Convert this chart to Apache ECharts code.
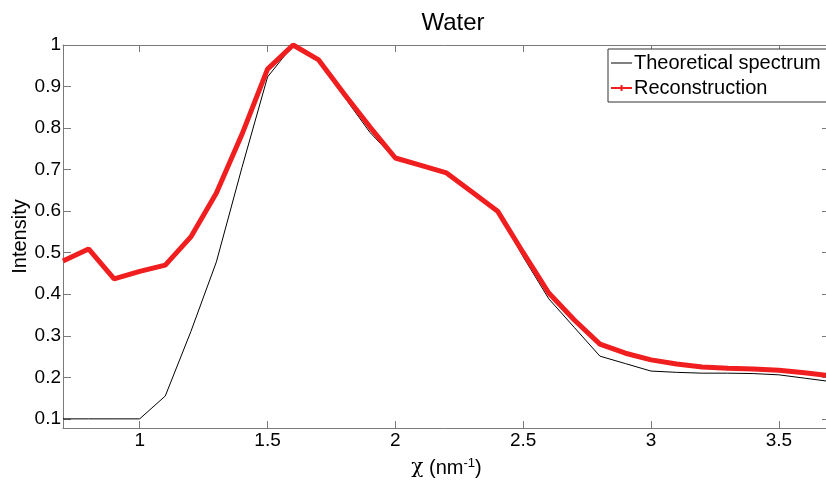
<!DOCTYPE html>
<html>
<head>
<meta charset="utf-8">
<script src="https://cdn.jsdelivr.net/npm/echarts@6/dist/echarts.min.js"></script>
<style>html,body{margin:0;padding:0;background:#fff;}#c{width:826px;height:481px;}</style>
</head>
<body>
<div id="c"></div>
<script>
const xValues = [0.7,0.8,0.9,1.0,1.1,1.2,1.3,1.4,1.5,1.6,1.7,1.8,1.9,2.0,2.1,2.2,2.3,2.4,2.5,2.6,2.7,2.8,2.9,3.0,3.1,3.2,3.3,3.4,3.5,3.6,3.7];
const theoretical = [0.1,0.1,0.1,0.1,0.155,0.31,0.478,0.705,0.923,1.0,0.964,0.875,0.79,0.725,0.708,0.69,0.646,0.60,0.49,0.389,0.32,0.251,0.233,0.215,0.212,0.21,0.21,0.209,0.206,0.198,0.19];
const reconstruction = [0.48,0.509,0.437,0.455,0.47,0.538,0.644,0.785,0.942,1.0,0.964,0.882,0.803,0.728,0.71,0.692,0.646,0.60,0.50,0.403,0.338,0.28,0.258,0.242,0.232,0.225,0.222,0.22,0.217,0.211,0.204];
const xTicks = [1,1.5,2,2.5,3,3.5];
const yTicks = [0.1,0.2,0.3,0.4,0.5,0.6,0.7,0.8,0.9,1];

const font = 'Liberation Sans, Arial, sans-serif';
const axisColor = '#7a7a7a';
const FS = 20;
const chart = echarts.init(document.getElementById('c'));
const pair = arr => xValues.map((x,i)=>[x,arr[i]]);
const fmt = v => String(+v.toFixed(2));
chart.setOption({
  animation:false,
  title:{text:'Water',left:448,top:6,textAlign:'center',textStyle:{fontFamily:font,fontSize:24,fontWeight:'normal',color:'#000'}},
  legend:{
    orient:'vertical',left:608,top:49,
    padding:[4,40,4,3],itemGap:5,itemWidth:21,itemHeight:14,
    borderColor:'#333',borderWidth:1,backgroundColor:'#fff',borderRadius:0,
    textStyle:{fontFamily:font,fontSize:FS,color:'#000',padding:[0,0,0,-3]},
    data:[
      {name:'Theoretical spectrum',icon:'path://M0,0h21v1h-21z',itemStyle:{color:'#000'}},
      {name:'Reconstruction',icon:'path://M0,2h9.5v-2h2v2h9.5v2h-9.5v2h-2v-2h-9.5z',itemStyle:{color:'#f01e1e'}}
    ]
  },
  grid:{left:63,top:45,width:767,height:383,containLabel:false,outerBoundsMode:'none'},
  xAxis:[{
    type:'value',min:0.7,max:3.7,
    name:'{g|χ} (nm{s|-1})',nameLocation:'middle',nameGap:29,nameMoveOverlap:false,
    nameTextStyle:{fontFamily:font,fontSize:FS,color:'#000',rich:{g:{fontFamily:'DejaVu Serif, serif',fontSize:FS,color:'#000'},s:{fontFamily:font,fontSize:13,verticalAlign:'top',padding:[0,0,9,0],color:'#000'}}},
    axisLine:{show:true,lineStyle:{color:axisColor}},
    axisTick:{show:true,inside:true,length:7,lineStyle:{color:axisColor},customValues:xTicks},
    axisLabel:{fontFamily:font,fontSize:19,color:'#000',margin:3,customValues:xTicks,formatter:fmt},
    splitLine:{show:false}
  },{
    type:'value',min:0.7,max:3.7,position:'top',
    axisLine:{show:true,lineStyle:{color:axisColor}},
    axisTick:{show:true,inside:true,length:7,lineStyle:{color:axisColor},customValues:xTicks},
    axisLabel:{show:false},splitLine:{show:false}
  }],
  yAxis:[{
    type:'value',min:0.078,max:1.0,
    name:'Intensity',nameLocation:'middle',nameGap:33,nameMoveOverlap:false,
    nameTextStyle:{fontFamily:font,fontSize:FS,color:'#000'},
    axisLine:{show:true,lineStyle:{color:axisColor}},
    axisTick:{show:true,inside:true,length:8,lineStyle:{color:axisColor},customValues:yTicks},
    axisLabel:{fontFamily:font,fontSize:19,color:'#000',margin:2,customValues:yTicks,formatter:fmt},
    splitLine:{show:false}
  },{
    type:'value',min:0.078,max:1.0,position:'right',
    axisLine:{show:true,lineStyle:{color:axisColor}},
    axisTick:{show:true,inside:true,length:8,lineStyle:{color:axisColor},customValues:yTicks},
    axisLabel:{show:false},splitLine:{show:false}
  }],
  series:[{
    name:'Theoretical spectrum',type:'line',data:pair(theoretical),
    symbol:'none',lineStyle:{color:'#000',width:1},itemStyle:{color:'#000'},z:2
  },{
    name:'Reconstruction',type:'line',data:pair(reconstruction),
    symbol:'none',lineStyle:{color:'#f01e1e',width:5},itemStyle:{color:'#f01e1e'},z:3
  }]
});
</script>
</body>
</html>
